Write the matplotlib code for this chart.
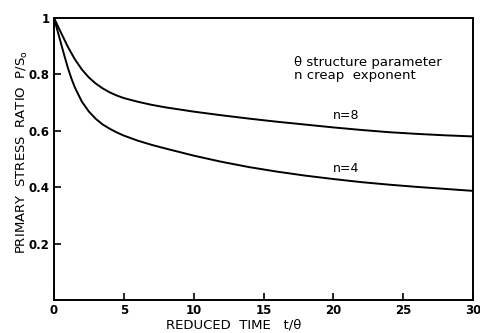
import matplotlib.pyplot as plt

# reduced time t/theta and primary stress ratio
t8 = [0, 0.5, 1.0, 1.5, 2.0, 2.5, 3.0, 3.5, 4.0, 4.5, 5.0, 6, 7, 8, 10, 12, 14, 16, 18, 20, 22, 24, 26, 28, 30]
r8 = [1.0, 0.948, 0.897, 0.853, 0.817, 0.789, 0.767, 0.750, 0.736, 0.725, 0.716, 0.703, 0.692, 0.683,
      0.668, 0.655, 0.643, 0.632, 0.622, 0.612, 0.603, 0.595, 0.589, 0.584, 0.580]

t4 = [0, 0.25, 0.5, 0.75, 1.0, 1.25, 1.5, 2.0, 2.5, 3.0, 3.5, 4.0, 4.5, 5, 6, 7, 8, 10, 12, 14, 16, 18, 20, 22, 24, 26, 28, 30]
r4 = [1.0, 0.955, 0.91, 0.865, 0.822, 0.785, 0.753, 0.703, 0.668, 0.642, 0.622, 0.607, 0.594, 0.583,
      0.565, 0.550, 0.537, 0.512, 0.490, 0.471, 0.455, 0.441, 0.429, 0.418, 0.409, 0.401, 0.394, 0.387]

xticks = [0, 5, 10, 15, 20, 25, 30]
yticks = [0.2, 0.4, 0.6, 0.8, 1.0]
ylabels = ['0.2', '0.4', '0.6', '0.8', '1']

plt.rcParams['font.family'] = 'DejaVu Sans'
fig = plt.figure(figsize=(4.8, 3.33), dpi=100)
ax = fig.add_axes([0.1125, 0.099, 0.873, 0.847])

ax.plot(t8, r8, color='black', lw=1.4)
ax.plot(t4, r4, color='black', lw=1.4)

ax.set_xlim(0, 30)
ax.set_ylim(0, 1)
ax.set_xticks(xticks)
ax.set_xticklabels([str(x) for x in xticks], fontsize=8.5, fontweight='bold')
ax.set_yticks(yticks)
ax.set_yticklabels(ylabels, fontsize=8.5, fontweight='bold')
ax.tick_params(direction='in', length=5, width=1.2, pad=3)
for s in ax.spines.values():
    s.set_linewidth(1.4)

ax.text(20.9, 0.632, 'n=8', fontsize=9, ha='center', va='bottom')
ax.text(20.9, 0.442, 'n=4', fontsize=9, ha='center', va='bottom')
ax.text(17.2, 0.842, '\u03b8 structure parameter', fontsize=9.5, va='center')
ax.text(17.2, 0.797, 'n creap  exponent', fontsize=9.5, va='center')

ax.set_xlabel('REDUCED  TIME   t/\u03b8', fontsize=9.5, labelpad=0)
ax.xaxis.set_label_coords(0.43, -0.065)
ax.set_ylabel('PRIMARY  STRESS  RATIO  P/S$_\\mathregular{o}$', fontsize=9.5)
ax.yaxis.set_label_coords(-0.058, 0.525)

fig.savefig('out.png', dpi=100)
